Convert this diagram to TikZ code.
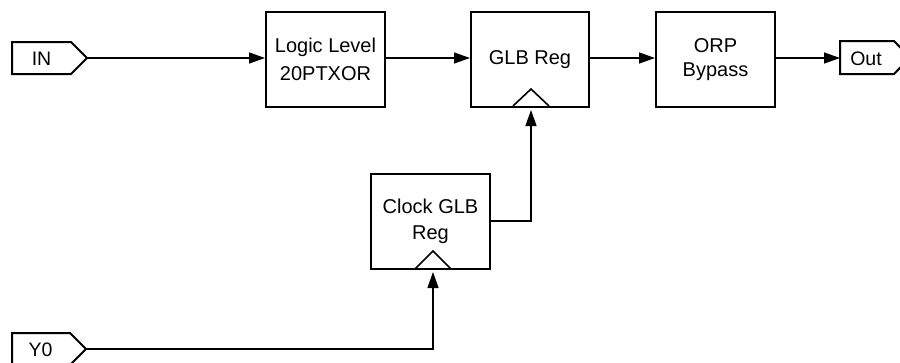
\documentclass[tikz,border=0pt]{standalone}
\usepackage{fontspec}
\setmainfont{Liberation Sans}
\usetikzlibrary{arrows.meta,calc}
\begin{document}
\begin{tikzpicture}[x=1pt,y=-1pt,
  box/.style={draw,line width=2pt,minimum width=119pt,minimum height=95pt,inner sep=0pt,align=center,font=\fontsize{20}{24}\selectfont},
  port/.style={line width=2pt,line join=miter},
  lbl/.style={font=\fontsize{19.5}{24}\selectfont,inner sep=0pt},
  conn/.style={line width=1.3pt,-{Triangle[length=16pt,width=11pt]}},
  clk/.style={line width=1.6pt,line join=miter}]
\useasboundingbox (0,0) rectangle (900,362);
% input / output ports
\draw[port] (12,42) -- (71,42) -- (87,58) -- (71,74) -- (12,74) -- cycle;
\node[lbl] (in) at (41.5,58.5) {IN};
\coordinate (intip) at (87,58);
\draw[port] (840,41) -- (894,41) -- (910,57.5) -- (894,74) -- (840,74) -- cycle;
\node[lbl] (out) at (866,58.5) {Out};
\coordinate (outin) at (840,58);
\draw[port] (12,333) -- (70,333) -- (86,349) -- (70,365) -- (12,365) -- cycle;
\node[lbl] (y0) at (40.5,349.5) {Y0};
\coordinate (y0tip) at (86,349);
% boxes
\node[box] (logic) at (325.5,59.5) {Logic Level\\[4pt]20PTXOR};
\node[box,minimum width=118pt] (glb) at (530,59.5) {GLB Reg};
\node[box] (orp) at (715.5,59.5) {\raisebox{2pt}{\begin{tabular}{@{}c@{}}ORP\\Bypass\end{tabular}}};
\node[box] (clock) at (430.5,221.5) {\raisebox{3pt}{\begin{tabular}{@{}c@{}}Clock GLB\\[2pt]Reg\end{tabular}}};
% clock triangles
\draw[clk] (513,106) -- (531,89) -- (549,106);
\draw[clk] (415,269) -- (433,251) -- (451,269);
% connectors
\draw[conn] (intip) -- (intip -| logic.west);
\draw[conn] (logic.east |- 0,58) -- (glb.west |- 0,58);
\draw[conn] (glb.east |- 0,58) -- (orp.west |- 0,58);
\draw[conn] (orp.east |- 0,58) -- (outin);
\coordinate (glbclk) at (531,110);
\coordinate (clkclk) at (433,272);
\draw[conn] (clock.east |- 0,221) -| (glbclk);
\draw[conn] (y0tip) -| (clkclk);
\end{tikzpicture}
\end{document}
